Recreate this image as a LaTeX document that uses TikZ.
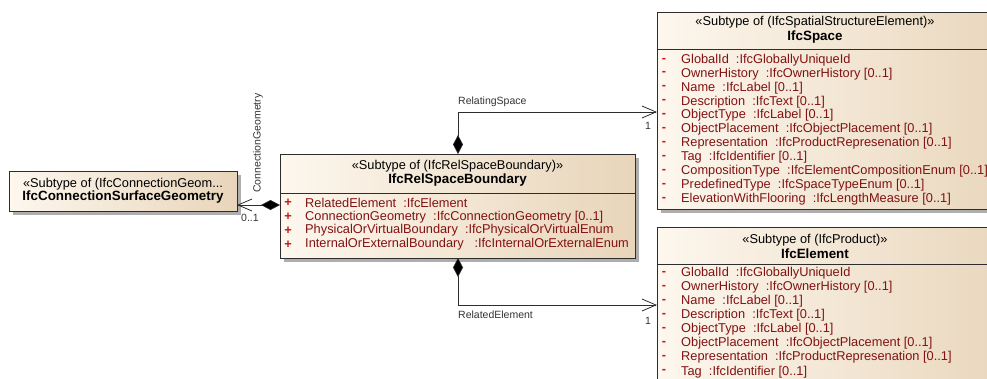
\documentclass[tikz,border=0pt]{standalone}
\usepackage{fontspec}
\setmainfont{Liberation Sans}
\usetikzlibrary{arrows.meta,shadows}

\definecolor{attr}{RGB}{130,18,18}
\definecolor{mark}{RGB}{200,25,25}
\definecolor{boxl}{RGB}{253,247,238}
\definecolor{boxr}{RGB}{232,213,186}
\definecolor{edge}{RGB}{45,45,45}

\tikzset{
  classbox/.style={draw=edge, line width=0.8pt, left color=boxl, right color=boxr,
    anchor=north west, inner sep=0, outer sep=0,
    drop shadow={shadow xshift=3.5pt, shadow yshift=-3.5pt, fill=black!45, opacity=0.7}},
  sep/.style={draw=edge, line width=0.8pt},
  stereo/.style={font=\fontsize{12.8}{14}\selectfont, inner sep=0},
  cname/.style={font=\fontsize{13.4}{15}\selectfont\bfseries, inner sep=0},
  attrtxt/.style={font=\fontsize{12.8}{14}\selectfont, text=attr, anchor=west, inner sep=0},
  vis/.style={font=\fontsize{12.8}{14}\selectfont\bfseries, text=mark, inner sep=0},
  lbl/.style={font=\fontsize{10.5}{12}\selectfont, text=black!80, inner sep=0},
  mult/.style={font=\fontsize{10.5}{12}\selectfont, text=black!80, inner sep=0},
  compassoc/.style={draw=edge, line width=0.8pt,
    arrows={Diamond[length=19pt,width=10pt,fill=black,line width=0.6pt]-Straight Barb[length=14pt,width=12pt,line width=0.8pt]}},
}

\begin{document}
\begin{tikzpicture}[x=1pt,y=-1pt]
  \useasboundingbox (0,0) rectangle (987,378);
  \clip (0,0) rectangle (987,378);

  % class boxes
  \node[classbox, minimum width=228pt, minimum height=40pt] (csg) at (9,171) {};
  \node[classbox, minimum width=355pt, minimum height=104pt] (rsb) at (280,154) {};
  \node[classbox, minimum width=370pt, minimum height=197pt] (space) at (657,12) {};
  \node[classbox, minimum width=370pt, minimum height=190pt] (elem) at (657,227) {};

  % compartment separators
  \draw[sep] (rsb.west |- 0,193) -- (rsb.east |- 0,193);
  \draw[sep] (space.west |- 0,49) -- (space.east |- 0,49);
  \draw[sep] (elem.west |- 0,264) -- (elem.east |- 0,264);

  % headers
  \node[stereo] (csgst) at (123,184) {«Subtype of (IfcConnectionGeom...};
  \node[cname]  (csgnm) at (123,197) {IfcConnectionSurfaceGeometry};

  \node[stereo] (rsbst) at (457.5,166) {«Subtype of (IfcRelSpaceBoundary)»};
  \node[cname]  (rsbnm) at (457.5,180) {IfcRelSpaceBoundary};

  \node[stereo] (spst) at (815,22) {«Subtype of (IfcSpatialStructureElement)»};
  \node[cname]  (spnm) at (815,37) {IfcSpace};

  \node[stereo] (elst) at (815,240) {«Subtype of (IfcProduct)»};
  \node[cname]  (elnm) at (815,254) {IfcElement};

  % attributes of IfcRelSpaceBoundary
  \foreach \t [count=\i from 0] in {
      {RelatedElement \ :IfcElement},
      {ConnectionGeometry \ :IfcConnectionGeometry [0..1]},
      {PhysicalOrVirtualBoundary \ :IfcPhysicalOrVirtualEnum},
      {InternalOrExternalBoundary \ \ :IfcInternalOrExternalEnum}} {
    \node[vis] (rsbv\i) at (288,203+13.8*\i) {+};
    \node[attrtxt] (rsba\i) at (305,203+13.8*\i) {\t};
  }

  % attributes of IfcSpace
  \foreach \t [count=\i from 0] in {
      {GlobalId \ :IfcGloballyUniqueId},
      {OwnerHistory \ :IfcOwnerHistory [0..1]},
      {Name \ :IfcLabel [0..1]},
      {Description \ :IfcText [0..1]},
      {ObjectType \ :IfcLabel [0..1]},
      {ObjectPlacement \ :IfcObjectPlacement [0..1]},
      {Representation \ :IfcProductRepresenation [0..1]},
      {Tag \ :IfcIdentifier [0..1]},
      {CompositionType \ :IfcElementCompositionEnum [0..1]},
      {PredefinedType \ :IfcSpaceTypeEnum [0..1]},
      {ElevationWithFlooring \ :IfcLengthMeasure [0..1]}} {
    \node[vis] (spv\i) at (664,60+13.9*\i) {-};
    \node[attrtxt] (spa\i) at (681,60+13.9*\i) {\t};
  }

  % attributes of IfcElement
  \foreach \t [count=\i from 0] in {
      {GlobalId \ :IfcGloballyUniqueId},
      {OwnerHistory \ :IfcOwnerHistory [0..1]},
      {Name \ :IfcLabel [0..1]},
      {Description \ :IfcText [0..1]},
      {ObjectType \ :IfcLabel [0..1]},
      {ObjectPlacement \ :IfcObjectPlacement [0..1]},
      {Representation \ :IfcProductRepresenation [0..1]},
      {Tag \ :IfcIdentifier [0..1]}} {
    \node[vis] (elv\i) at (664,273+14.1*\i) {-};
    \node[attrtxt] (ela\i) at (681,273+14.1*\i) {\t};
  }

  % associations
  \draw[compassoc] (rsb.north -| 458,0) |- (space.west |- 0,112);
  \draw[compassoc] (rsb.south -| 458,0) |- (elem.west |- 0,305);
  \draw[compassoc] (rsb.west |- 0,205) -- (csg.east |- 0,205);

  % association labels
  \node[lbl, anchor=west] (lrs) at (458,102) {RelatingSpace};
  \node[mult] (mrs) at (648,126) {1};
  \node[lbl, anchor=west] (lre) at (458,315) {RelatedElement};
  \node[mult] (mre) at (648,321) {1};
  \node[mult, anchor=west] (mcg) at (241,218) {0..1};
  \node[lbl, rotate=90] (lcg) at (258,143) {ConnectionGeometry};
\end{tikzpicture}
\end{document}
